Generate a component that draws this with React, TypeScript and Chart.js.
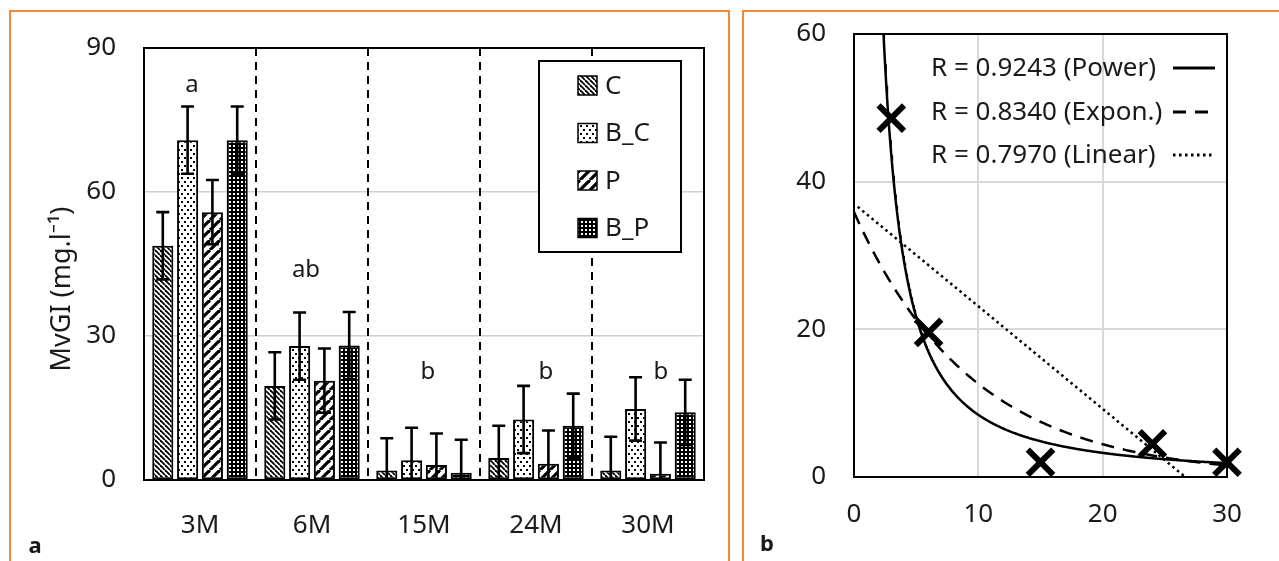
import React, { useEffect, useRef } from "react";
import { Chart, registerables } from "chart.js";

Chart.register(...registerables);

// ---------- Panel a data ----------
const categories = ["3M", "6M", "15M", "24M", "30M"];
const seriesNames = ["C", "B_C", "P", "B_P"];
const valuesC = [48.8, 19.6, 2.0, 4.6, 2.0];
const valuesBC = [70.8, 27.9, 4.1, 12.6, 14.8];
const valuesP = [55.8, 20.7, 3.1, 3.4, 1.3];
const valuesBP = [70.8, 28.0, 1.5, 11.3, 14.1];
const errorsC = [7.0, 7.0, 6.7, 6.7, 7.0];
const errorsBC = [7.0, 7.0, 6.8, 7.0, 6.6];
const errorsP = [6.7, 6.7, 6.6, 6.9, 6.5];
const errorsBP = [7.0, 7.0, 6.9, 6.7, 6.8];
const groupLetters = ["a", "ab", "b", "b", "b"];
const letterLevels = [82.3, 43.7, 22.5, 22.5, 22.5];
const yTicksA = [0, 30, 60, 90];
const yTitleA = "MvGI (mg.l⁻¹)";

// ---------- Panel b data ----------
const monthsB = [3, 6, 15, 24, 30];
const mvgiB = [48.6, 19.6, 2.0, 4.5, 2.0];
const fitLabels = ["R = 0.9243 (Power)", "R = 0.8340 (Expon.)", "R = 0.7970 (Linear)"];
const xTicksB = [0, 10, 20, 30];
const yTicksB = [0, 20, 40, 60];

const FONT = '"Noto Sans", "Open Sans", sans-serif';
const TEXT = "#1a1a1a";

function makePattern(kind: string): CanvasPattern {
  const c = document.createElement("canvas");
  let s = 5;
  if (kind === "C") { c.width = 5; c.height = 5; s = 5; }
  else if (kind === "B_C") { c.width = 6; c.height = 8; }
  else if (kind === "P") { c.width = 10; c.height = 10; s = 10; }
  else { c.width = 4; c.height = 4; }
  const g = c.getContext("2d")!;
  if (kind === "C") {
    g.fillStyle = "#fff"; g.fillRect(0, 0, s, s);
    g.strokeStyle = "#000"; g.lineWidth = 1.8;
    for (const k of [-s, 0, s]) { g.beginPath(); g.moveTo(k, 0); g.lineTo(k + s, s); g.stroke(); }
  } else if (kind === "B_C") {
    g.fillStyle = "#fff"; g.fillRect(0, 0, 6, 8);
    g.fillStyle = "#000"; g.fillRect(1, 1, 2, 2); g.fillRect(4, 5, 2, 2);
  } else if (kind === "P") {
    g.fillStyle = "#fff"; g.fillRect(0, 0, s, s);
    g.strokeStyle = "#000"; g.lineWidth = 3.2;
    for (const k of [-s, 0, s]) { g.beginPath(); g.moveTo(k, s); g.lineTo(k + s, 0); g.stroke(); }
  } else {
    g.fillStyle = "#000"; g.fillRect(0, 0, 4, 4);
    g.fillStyle = "#fff"; g.fillRect(1, 1, 2, 2);
  }
  return g.createPattern(c, "repeat")!;
}

function linFit(xs: number[], ys: number[]) {
  const n = xs.length;
  const mx = xs.reduce((a, b) => a + b, 0) / n;
  const my = ys.reduce((a, b) => a + b, 0) / n;
  let sxy = 0, sxx = 0;
  for (let i = 0; i < n; i++) { sxy += (xs[i] - mx) * (ys[i] - my); sxx += (xs[i] - mx) ** 2; }
  const b = sxy / sxx;
  return { a: my - b * mx, b };
}

function sampleCurve(f: (x: number) => number, x0: number, x1: number, step: number) {
  const pts: { x: number; y: number }[] = [];
  for (let x = x0; x <= x1 + 1e-9; x += step) pts.push({ x, y: f(x) });
  return pts;
}

const letterOffsets = [-8, -6, 4, 10, 13];

const panelAPlugin = {
  id: "panelA",
  beforeDatasetsDraw(chart: any) {
    const { ctx, chartArea: a, scales } = chart;
    const x = scales.x;
    ctx.save();
    ctx.strokeStyle = "#000";
    ctx.lineWidth = 2;
    ctx.setLineDash([8, 6]);
    for (let i = 1; i < categories.length; i++) {
      const px = Math.round((x.getPixelForValue(i - 1) + x.getPixelForValue(i)) / 2);
      ctx.beginPath(); ctx.moveTo(px, a.top); ctx.lineTo(px, a.bottom); ctx.stroke();
    }
    ctx.setLineDash([]);
    ctx.strokeRect(a.left, a.top, a.right - a.left, a.bottom - a.top);
    ctx.restore();
  },
  afterDatasetsDraw(chart: any) {
    const { ctx, chartArea: a, scales } = chart;
    const y = scales.y;
    const x = scales.x;
    ctx.save();
    ctx.beginPath();
    ctx.rect(a.left, a.top, a.right - a.left, a.bottom - a.top);
    ctx.clip();
    ctx.strokeStyle = "#000";
    ctx.lineWidth = 2.6;
    chart.data.datasets.forEach((ds: any, di: number) => {
      const meta = chart.getDatasetMeta(di);
      meta.data.forEach((bar: any, i: number) => {
        const v = ds.data[i];
        const e = ds.errors[i];
        const yt = y.getPixelForValue(v + e);
        const yb = y.getPixelForValue(v - e);
        const cx = bar.x;
        ctx.beginPath();
        ctx.moveTo(cx, yt); ctx.lineTo(cx, yb);
        ctx.moveTo(cx - 6.5, yt); ctx.lineTo(cx + 6.5, yt);
        ctx.moveTo(cx - 6.5, yb); ctx.lineTo(cx + 6.5, yb);
        ctx.stroke();
      });
    });
    ctx.restore();

    // group letters
    ctx.save();
    ctx.fillStyle = TEXT;
    ctx.font = `24px ${FONT}`;
    ctx.textAlign = "center";
    ctx.textBaseline = "middle";
    groupLetters.forEach((t, i) => {
      ctx.fillText(t, x.getPixelForValue(i) + letterOffsets[i], y.getPixelForValue(letterLevels[i]));
    });
    ctx.restore();
  },
  afterDraw(chart: any) {
    const { ctx, chartArea: a } = chart;
    ctx.save();
    // legend box
    const l = a.right - 165, t = a.top + 13, r = a.right - 23, b = a.top + 204;
    ctx.fillStyle = "#fff";
    ctx.fillRect(l, t, r - l, b - t);
    ctx.strokeStyle = "#000";
    ctx.lineWidth = 2;
    ctx.strokeRect(l, t, r - l, b - t);
    ctx.font = `26px ${FONT}`;
    ctx.textBaseline = "middle";
    ctx.textAlign = "left";
    chart.data.datasets.forEach((ds: any, k: number) => {
      const cy = a.top + 37.5 + k * 47.5;
      const sx = a.right - 126;
      ctx.fillStyle = ds.backgroundColor;
      ctx.fillRect(sx, cy - 9.5, 19, 19);
      ctx.lineWidth = 1.5;
      ctx.strokeRect(sx, cy - 9.5, 19, 19);
      ctx.fillStyle = TEXT;
      ctx.fillText(ds.label, a.right - 99, cy + 1);
    });
    // y title
    ctx.translate(62, 289);
    ctx.rotate(-Math.PI / 2);
    ctx.textAlign = "center";
    ctx.font = `27px ${FONT}`;
    ctx.fillStyle = TEXT;
    ctx.fillText(yTitleA, 0, 0);
    ctx.restore();
  },
};

const panelBPlugin = {
  id: "panelB",
  beforeDatasetsDraw(chart: any) {
    const { ctx, chartArea: a } = chart;
    ctx.save();
    ctx.strokeStyle = "#000";
    ctx.lineWidth = 2;
    ctx.strokeRect(a.left, a.top, a.right - a.left, a.bottom - a.top);
    ctx.restore();
  },
  afterDraw(chart: any) {
    const { ctx, chartArea: a } = chart;
    ctx.save();
    ctx.font = `26px ${FONT}`;
    ctx.textBaseline = "middle";
    ctx.textAlign = "left";
    const dashes = [[], [13, 9], [2.5, 3.5]];
    fitLabels.forEach((lab, k) => {
      const cy = a.top + [34, 78, 121][k];
      ctx.fillStyle = TEXT;
      ctx.fillText(lab, a.left + 77, cy + 1);
      ctx.strokeStyle = "#000";
      ctx.lineWidth = 3;
      ctx.setLineDash(dashes[k]);
      ctx.beginPath();
      ctx.moveTo(a.left + 319, cy);
      ctx.lineTo(a.left + 361, cy);
      ctx.stroke();
    });
    ctx.restore();
  },
};

export default function App() {
  const refA = useRef<HTMLCanvasElement>(null);
  const refB = useRef<HTMLCanvasElement>(null);

  useEffect(() => {
    const tickFont = { family: FONT, size: 26 };
    const values = [valuesC, valuesBC, valuesP, valuesBP];
    const errors = [errorsC, errorsBC, errorsP, errorsBP];
    const chartA = new Chart(refA.current!, {
      type: "bar",
      data: {
        labels: categories,
        datasets: seriesNames.map((name, k) => ({
          label: name,
          data: values[k],
          errors: errors[k],
          backgroundColor: makePattern(name),
          borderColor: "#000",
          borderWidth: 2,
          borderSkipped: false,
          categoryPercentage: 0.886,
          barPercentage: 0.85,
        })) as any,
      },
      options: {
        responsive: false,
        animation: false,
        devicePixelRatio: 1,
        layout: { autoPadding: false, padding: { left: 0, top: 48, right: 31, bottom: 21 } },
        plugins: { legend: { display: false }, tooltip: { enabled: false } },
        scales: {
          x: {
            grid: { display: false },
            border: { display: false },
            ticks: { font: tickFont, color: TEXT, padding: 22 },
            afterFit: (s: any) => { s.height = 60; },
          },
          y: {
            min: 0,
            max: 90,
            afterBuildTicks: (s: any) => { s.ticks = yTicksA.map((v) => ({ value: v })); },
            ticks: { font: tickFont, color: TEXT, padding: 28 },
            grid: { color: "#d0d0d0", lineWidth: 1.5, drawTicks: false },
            border: { display: false },
            afterFit: (s: any) => { s.width = 144; s.paddingTop = 0; },
          },
        },
      } as any,
      plugins: [panelAPlugin],
    });

    const xs = monthsB, ys = mvgiB;
    const pw = linFit(xs.map(Math.log), ys.map(Math.log));
    const ex = linFit(xs, ys.map(Math.log));
    const li = linFit(xs, ys);
    const powerF = (x: number) => Math.exp(pw.a) * Math.pow(x, pw.b);
    const expF = (x: number) => Math.exp(ex.a + ex.b * x);
    const linF = (x: number) => li.a + li.b * x;

    const chartB = new Chart(refB.current!, {
      type: "scatter",
      data: {
        datasets: [
          {
            type: "scatter",
            data: xs.map((x, i) => ({ x, y: ys[i] })),
            pointStyle: "crossRot",
            pointRadius: 18,
            borderWidth: 6,
            borderColor: "#000",
            backgroundColor: "#000",
            clip: false,
          },
          {
            type: "line",
            data: sampleCurve(powerF, 2.2, 30, 0.05),
            borderColor: "#000",
            borderWidth: 2.5,
            pointRadius: 0,
            fill: false,
          },
          {
            type: "line",
            data: sampleCurve(expF, 0, 30, 0.1),
            borderColor: "#000",
            borderWidth: 2.5,
            borderDash: [13, 9],
            pointRadius: 0,
            fill: false,
          },
          {
            type: "line",
            data: sampleCurve(linF, 0.3, 30, 0.5),
            borderColor: "#000",
            borderWidth: 2.5,
            borderDash: [2.5, 3.5],
            pointRadius: 0,
            fill: false,
          },
        ] as any,
      },
      options: {
        responsive: false,
        animation: false,
        devicePixelRatio: 1,
        layout: { autoPadding: false, padding: { left: 0, top: 34, right: 52, bottom: 24 } },
        plugins: { legend: { display: false }, tooltip: { enabled: false } },
        scales: {
          x: {
            type: "linear",
            min: 0,
            max: 30,
            afterBuildTicks: (s: any) => { s.ticks = xTicksB.map((v) => ({ value: v })); },
            ticks: { font: tickFont, color: TEXT, padding: 22 },
            grid: { color: "#d9d9d9", lineWidth: 2, drawTicks: false },
            border: { display: false },
            afterFit: (s: any) => { s.height = 60; },
          },
          y: {
            min: 0,
            max: 60,
            afterBuildTicks: (s: any) => { s.ticks = yTicksB.map((v) => ({ value: v })); },
            ticks: { font: tickFont, color: TEXT, padding: 28 },
            grid: { color: "#d9d9d9", lineWidth: 2, drawTicks: false },
            border: { display: false },
            afterFit: (s: any) => { s.width = 119; s.paddingTop = 0; },
          },
        },
      } as any,
      plugins: [panelBPlugin],
    });

    return () => { chartA.destroy(); chartB.destroy(); };
  }, []);

  const orange = "#F5873A";
  return (
    <div style={{ position: "fixed", left: 0, top: 0, width: 1279, height: 561, background: "#fff", overflow: "hidden" }}>
      <div style={{ position: "absolute", left: 9, top: 10, width: 721, height: 600, border: `2px solid ${orange}`, boxSizing: "border-box" }} />
      <div style={{ position: "absolute", left: 742, top: 10, width: 600, height: 600, border: `2px solid ${orange}`, boxSizing: "border-box" }} />
      <canvas ref={refA} width={735} height={561} style={{ position: "absolute", left: 0, top: 0 }} />
      <canvas ref={refB} width={544} height={561} style={{ position: "absolute", left: 735, top: 0 }} />
      <div style={{ position: "absolute", left: 35, top: 544, transform: "translate(-50%,-50%)", font: `bold 22px ${FONT}`, color: TEXT, lineHeight: 1 }}>a</div>
      <div style={{ position: "absolute", left: 767, top: 542, transform: "translate(-50%,-50%)", font: `bold 22px ${FONT}`, color: TEXT, lineHeight: 1 }}>b</div>
    </div>
  );
}
